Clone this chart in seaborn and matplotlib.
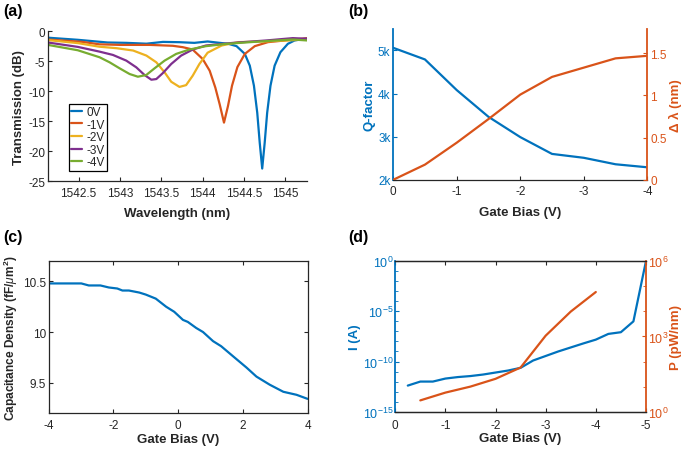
import numpy as np
import pandas as pd
import matplotlib
matplotlib.use("Agg")
import matplotlib.pyplot as plt
import seaborn as sns
from matplotlib.ticker import FixedLocator, FixedFormatter, NullFormatter, FuncFormatter

# --- colours (MATLAB default order)
BLUE = "#0072BD"
ORANGE = "#D95319"
YELLOW = "#EDB120"
PURPLE = "#7E2F8E"
GREEN = "#77AC30"
GREY = "#262626"

# --- (a) transmission spectra
wl_0v = [1542.13, 1542.49, 1542.85, 1543.08, 1543.32, 1543.52, 1543.72, 1543.90, 1544.06,
         1544.31, 1544.41, 1544.51, 1544.57, 1544.62, 1544.66, 1544.69, 1544.72, 1544.75,
         1544.78, 1544.82, 1544.87, 1544.94, 1545.03, 1545.11, 1545.26]
tr_0v = [-1.1, -1.45, -1.9, -1.96, -2.1, -1.8, -1.85, -1.96, -1.73,
         -2.12, -2.51, -3.8, -5.76, -9.1, -13.6, -18.6, -22.9, -18.6,
         -13.6, -9.1, -5.76, -3.52, -2.12, -1.57, -1.2]
wl_1v = [1542.13, 1542.55, 1542.75, 1543.0, 1543.36, 1543.64, 1543.76, 1543.88, 1543.90,
         1544.0, 1544.085, 1544.153, 1544.206, 1544.258, 1544.306, 1544.355, 1544.42,
         1544.51, 1544.63, 1544.79, 1545.11, 1545.26]
tr_1v = [-1.4, -1.8, -2.2, -2.3, -2.3, -2.45, -2.68, -3.07, -3.35,
         -4.64, -6.6, -9.4, -12.2, -15.25, -12.5, -9.1, -6.0,
         -3.8, -2.51, -1.84, -1.4, -1.2]
wl_2v = [1542.13, 1542.49, 1542.75, 1542.96, 1543.16, 1543.32, 1543.44, 1543.54, 1543.62,
         1543.72, 1543.80, 1543.88, 1543.96, 1544.06, 1544.23, 1544.43, 1544.8, 1545.26]
tr_2v = [-1.5, -2.0, -2.6, -2.85, -3.24, -4.08, -5.2, -6.87, -8.44,
         -9.3, -9.0, -7.43, -5.5, -3.6, -2.4, -1.84, -1.7, -1.4]
wl_3v = [1542.13, 1542.49, 1542.75, 1542.915, 1543.077, 1543.198, 1543.298, 1543.38, 1543.44,
         1543.52, 1543.62, 1543.74, 1543.88, 1544.04, 1544.37, 1544.77, 1545.09, 1545.26]
tr_3v = [-1.9, -2.63, -3.41, -3.97, -4.92, -6.04, -7.32, -8.1, -7.99,
         -6.98, -5.48, -4.08, -3.07, -2.4, -1.96, -1.56, -1.17, -1.28]
wl_4v = [1542.13, 1542.49, 1542.754, 1542.875, 1542.996, 1543.117, 1543.217, 1543.318,
         1543.419, 1543.54, 1543.68, 1543.84, 1544.04, 1544.29, 1544.69, 1545.09, 1545.26]
tr_4v = [-2.3, -3.19, -4.36, -5.2, -6.2, -7.15, -7.6, -7.32,
         -6.2, -4.92, -3.8, -3.07, -2.51, -2.12, -1.73, -1.4, -1.56]
bias_labels = ["0V", "-1V", "-2V", "-3V", "-4V"]

# --- (b) Q-factor and resonance shift
bias_b = [0, -0.5, -1, -1.5, -2, -2.5, -3, -3.5, -4]
q_factor = [5060, 4790, 4080, 3460, 2990, 2600, 2510, 2360, 2290]
d_lambda = [0, 0.18, 0.44, 0.72, 1.01, 1.22, 1.33, 1.44, 1.47]

# --- (c) capacitance density
bias_c = [-4, -2.99, -2.76, -2.4, -2.14, -1.88, -1.72, -1.52, -1.2, -1.0, -0.69, -0.37,
          -0.12, 0.15, 0.3, 0.56, 0.77, 1.08, 1.33, 1.7, 2.11, 2.42, 2.83, 3.25, 3.66, 4.0]
cap_c = [10.48, 10.48, 10.46, 10.46, 10.44, 10.43, 10.41, 10.41, 10.39, 10.37, 10.33, 10.25,
         10.2, 10.12, 10.1, 10.04, 10.0, 9.91, 9.86, 9.76, 9.65, 9.56, 9.48, 9.41, 9.38, 9.34]

# --- (d) current and power (log10 values)
bias_i = [-0.25, -0.5, -0.75, -1.0, -1.25, -1.5, -1.75, -2.0, -2.25, -2.5, -2.75, -3.0,
          -3.25, -3.5, -3.75, -4.0, -4.25, -4.5, -4.75, -5.0]
log_i = [-12.4, -12.0, -12.0, -11.7, -11.55, -11.45, -11.3, -11.1, -10.9, -10.63, -9.9, -9.45,
         -9.0, -8.6, -8.2, -7.82, -7.25, -7.08, -6.0, 0.0]
bias_p = [-0.5, -1.0, -1.5, -2.0, -2.5, -3.0, -3.5, -4.0]
log_p = [0.45, 0.76, 1.0, 1.31, 1.76, 3.03, 3.99, 4.77]

sns.set_style("ticks")
plt.rcParams["font.family"] = ["Liberation Sans", "DejaVu Sans"]
plt.rcParams["mathtext.fontset"] = "custom"
plt.rcParams["mathtext.rm"] = "Liberation Sans"
plt.rcParams["mathtext.it"] = "Liberation Sans:italic"
plt.rcParams["mathtext.bf"] = "Liberation Sans:bold"
plt.rcParams["axes.unicode_minus"] = False
plt.rcParams["xtick.direction"] = "in"
plt.rcParams["ytick.direction"] = "in"
plt.rcParams["xtick.labelsize"] = 8.5
plt.rcParams["ytick.labelsize"] = 8.5
plt.rcParams["xtick.major.pad"] = 4
plt.rcParams["ytick.major.pad"] = 2
plt.rcParams["xtick.major.size"] = 3
plt.rcParams["ytick.major.size"] = 3
plt.rcParams["xtick.color"] = GREY
plt.rcParams["ytick.color"] = GREY
plt.rcParams["axes.edgecolor"] = GREY
plt.rcParams["axes.linewidth"] = 0.9

LW = 1.6
LABEL = dict(fontsize=9.5, fontweight="bold", color=GREY)
fmt_g = FuncFormatter(lambda v, p: f"{v:g}")

fig = plt.figure(figsize=(6.85, 4.52), dpi=100)

# ---------------- (a)
ax_a = fig.add_axes([0.070, 0.597, 0.378, 0.332])
spec = pd.concat([
    pd.DataFrame({"wl": w, "tr": t, "bias": b})
    for w, t, b in zip([wl_0v, wl_1v, wl_2v, wl_3v, wl_4v],
                       [tr_0v, tr_1v, tr_2v, tr_3v, tr_4v], bias_labels)
])
sns.lineplot(data=spec, x="wl", y="tr", hue="bias", hue_order=bias_labels,
             palette=[BLUE, ORANGE, YELLOW, PURPLE, GREEN], linewidth=LW,
             sort=False, estimator=None, ax=ax_a)
ax_a.set_xlim(1542.13, 1545.26)
ax_a.set_ylim(-25, 0)
ax_a.set_xticks([1542.5, 1543, 1543.5, 1544, 1544.5, 1545])
ax_a.set_yticks([0, -5, -10, -15, -20, -25])
ax_a.xaxis.set_major_formatter(fmt_g)
ax_a.yaxis.set_major_formatter(fmt_g)
sns.despine(ax=ax_a)
ax_a.set_xlabel("Wavelength (nm)", labelpad=6, **LABEL)
ax_a.set_ylabel("Transmission (dB)", labelpad=2, **LABEL)
leg = ax_a.legend(loc="lower left", bbox_to_anchor=(0.08, 0.07), fontsize=8.5,
                  handlelength=0.9, handletextpad=0.4, labelspacing=0.05,
                  borderpad=0.2, fancybox=False, framealpha=1, borderaxespad=0)
leg.get_frame().set_edgecolor("black")
leg.get_frame().set_linewidth(0.9)
for t in leg.get_texts():
    t.set_color(GREY)

# ---------------- (b)
ax_b = fig.add_axes([0.574, 0.600, 0.371, 0.334])
ax_b2 = ax_b.twinx()
sns.lineplot(x=bias_b, y=q_factor, color=BLUE, linewidth=LW, ax=ax_b)
sns.lineplot(x=bias_b, y=d_lambda, color=ORANGE, linewidth=LW, ax=ax_b2)
ax_b.set_xlim(0, -4)
ax_b.set_ylim(2000, 5500)
ax_b2.set_ylim(0, 1.79)
ax_b.set_xticks([0, -1, -2, -3, -4])
ax_b.xaxis.set_major_formatter(fmt_g)
ax_b.set_yticks([2000, 3000, 4000, 5000])
ax_b.yaxis.set_major_formatter(FuncFormatter(lambda v, p: f"{v/1000:g}k"))
ax_b2.set_yticks([0, 0.5, 1, 1.5])
ax_b2.yaxis.set_major_formatter(fmt_g)
for a in (ax_b, ax_b2):
    a.spines["top"].set_visible(False)
ax_b.spines["right"].set_visible(False)
ax_b2.spines["left"].set_visible(False)
ax_b2.spines["bottom"].set_visible(False)
ax_b.spines["left"].set_color(BLUE)
ax_b.spines["left"].set_linewidth(1.3)
ax_b2.spines["right"].set_color(ORANGE)
ax_b2.spines["right"].set_linewidth(1.3)
ax_b.tick_params(axis="y", colors=BLUE)
ax_b2.tick_params(axis="y", colors=ORANGE)
ax_b.set_xlabel("Gate Bias (V)", labelpad=6, **LABEL)
ax_b.set_ylabel("Q-factor", fontsize=9.5, fontweight="bold", color=BLUE, labelpad=2)
ax_b2.set_ylabel("Δ λ (nm)", fontsize=9.5, fontweight="bold", color=ORANGE, labelpad=2)

# ---------------- (c)
ax_c = fig.add_axes([0.071, 0.084, 0.378, 0.336])
sns.lineplot(x=bias_c, y=cap_c, color=BLUE, linewidth=LW, ax=ax_c)
ax_c.set_xlim(-4, 4)
ax_c.set_ylim(9.2, 10.7)
ax_c.set_xticks([-4, -2, 0, 2, 4])
ax_c.set_yticks([9.5, 10, 10.5])
ax_c.xaxis.set_major_formatter(fmt_g)
ax_c.yaxis.set_major_formatter(fmt_g)
ax_c.tick_params(top=True, right=True)
ax_c.set_xlabel("Gate Bias (V)", labelpad=2, **LABEL)
ax_c.set_ylabel(r"Capacitance Density (fF/$\mathit{\mu}$m$^{\mathbf{2}}$)",
                fontsize=8.6, fontweight="bold", color=GREY, labelpad=2)

# ---------------- (d)
ax_d = fig.add_axes([0.577, 0.087, 0.366, 0.333])
ax_d2 = ax_d.twinx()
sns.lineplot(x=bias_i, y=10.0 ** np.array(log_i), color=BLUE, linewidth=LW, ax=ax_d)
sns.lineplot(x=bias_p, y=10.0 ** np.array(log_p), color=ORANGE, linewidth=LW, ax=ax_d2)
ax_d.set_yscale("log")
ax_d2.set_yscale("log")
ax_d.set_xlim(0, -5)
ax_d.set_ylim(1e-15, 1e0)
ax_d2.set_ylim(1e0, 1e6)
ax_d.set_xticks([0, -1, -2, -3, -4, -5])
ax_d.xaxis.set_major_formatter(fmt_g)
ax_d.tick_params(axis="x", top=True)
ax_d.yaxis.set_major_locator(FixedLocator([1e-15, 1e-10, 1e-5, 1e0]))
ax_d.yaxis.set_major_formatter(FixedFormatter([r"$10^{-15}$", r"$10^{-10}$", r"$10^{-5}$", r"$10^{0}$"]))
ax_d.yaxis.set_minor_locator(FixedLocator([10.0 ** k for k in range(-15, 1)]))
ax_d.yaxis.set_minor_formatter(NullFormatter())
ax_d2.yaxis.set_major_locator(FixedLocator([1e0, 1e3, 1e6]))
ax_d2.yaxis.set_major_formatter(FixedFormatter([r"$10^{0}$", r"$10^{3}$", r"$10^{6}$"]))
ax_d2.yaxis.set_minor_locator(FixedLocator([10.0 ** k for k in range(0, 7)]))
ax_d2.yaxis.set_minor_formatter(NullFormatter())
ax_d.tick_params(axis="y", which="both", colors=BLUE, labelsize=9, pad=1.5)
ax_d2.tick_params(axis="y", which="both", colors=ORANGE, labelsize=9, pad=1.5)
ax_d.tick_params(axis="y", which="minor", length=2)
ax_d2.tick_params(axis="y", which="minor", length=2)
ax_d.tick_params(axis="x", pad=5)
ax_d.spines["left"].set_color(BLUE)
ax_d.spines["left"].set_linewidth(1.3)
ax_d2.spines["right"].set_color(ORANGE)
ax_d2.spines["right"].set_linewidth(1.3)
ax_d2.spines["left"].set_visible(False)
ax_d.spines["right"].set_visible(False)
ax_d.set_xlabel("Gate Bias (V)", labelpad=1, **LABEL)
ax_d.set_ylabel("I (A)", fontsize=9.5, fontweight="bold", color=BLUE, labelpad=1)
ax_d2.set_ylabel("P (pW/nm)", fontsize=9.5, fontweight="bold", color=ORANGE, labelpad=1)

# panel letters
for x, y, s in [(0.005, 0.975, "(a)"), (0.508, 0.975, "(b)"),
                (0.005, 0.475, "(c)"), (0.508, 0.475, "(d)")]:
    fig.text(x, y, s, fontsize=11.5, fontweight="bold", color="black", va="center")

fig.savefig("out.png", dpi=100)
